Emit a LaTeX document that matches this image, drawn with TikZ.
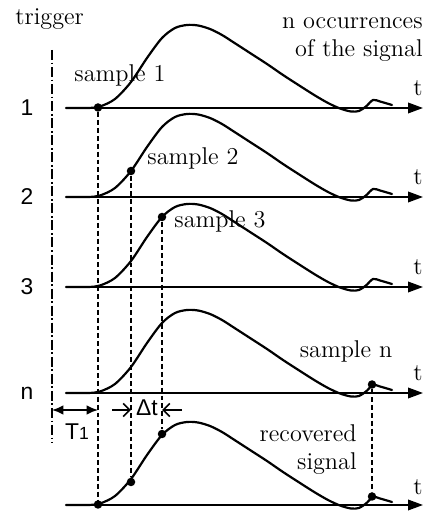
\documentclass[tikz,border=0pt]{standalone}
\usepackage{fontspec}
\setsansfont{Liberation Sans}
\usetikzlibrary{arrows.meta}
\tikzset{
  >={Triangle[length=8.5pt,width=6pt]},
  lab/.style={font=\fontsize{13.8}{16}\selectfont, inner sep=0pt},
  num/.style={font=\sffamily\fontsize{13}{15}\selectfont, inner sep=0pt},
  sig/.style={line width=1.25pt, line join=round, line cap=round},
  axis/.style={line width=1pt, ->},
  guide/.style={line width=0.75pt, dash pattern=on 2.8pt off 1.7pt},
  trig/.style={line width=1pt, dash pattern=on 5.7pt off 1.5pt on 1pt off 1.5pt},
  dot/.style={circle, fill, inner sep=0pt, minimum size=0.17cm},
  span/.style={line width=1pt, arrows={Latex[length=6.5pt,width=5.5pt]-Latex[length=6.5pt,width=5.5pt]}},
  pinch/.style={line width=0.9pt, arrows={-Straight Barb[length=3.8pt,width=7.5pt]}},
}

\begin{document}
\begin{tikzpicture}[x=0.02cm, y=0.02cm]

\useasboundingbox (0,0) rectangle (427,513);

% one occurrence of the signal, baseline at y=0
\def\pulse{plot[smooth, tension=0.5] coordinates {(66,0) (88,0) (100,1.5) (115,9) (131,26)
  (147,50) (162,70) (175,80) (187,83) (198,82.5) (210,79) (222,73) (233,66) (250,55)
  (267,44) (283,33) (300,22) (315,12.5) (328,5) (340,-0.5) (351,-3.5) (359,-3)
  (366,1.5) (373,8) (380,6.5) (392,3)}}

% ---------------- n occurrences ----------------
\foreach \b/\k in {405/1, 316/2, 226/3, 120/n} {
  \begin{scope}[shift={(0,\b)}]
    \draw[axis] (66,0) -- (423,0);
    \draw[sig] \pulse;
    \node[lab, anchor=base east] (tlab\k) at (423,12) {t};
    \node[num] (row\k) at (27,0) {\k};
  \end{scope}
}

% samples taken, one per occurrence
\node[dot] (s1) at (98,405.5) {};
\node[dot] (s2) at (131,342) {};
\node[dot] (s3) at (162,296) {};
\node[dot] (sn) at (372,128.5) {};
\node[lab, anchor=base] (lab1) at (120,431) {sample 1};
\node[lab, anchor=base] (lab2) at (193,348) {sample 2};
\node[lab, anchor=base] (lab3) at (220,285) {sample 3};
\node[lab, anchor=base] (labn) at (346,155) {sample n};

% ---------------- recovered signal ----------------
\begin{scope}[shift={(0,8)}]
  \draw[axis] (66,0) -- (423,0);
  \draw[sig] \pulse;
  \node[lab, anchor=base east] (tlabr) at (423,10) {t};
\end{scope}
\node[dot] (r1) at (98,8.5) {};
\node[dot] (r2) at (131,31) {};
\node[dot] (r3) at (162,79) {};
\node[dot] (rn) at (372,16.5) {};
\node[lab, anchor=base east, align=right] (rec) at (357,43) {recovered\\signal};

% sample instants carried down
\draw[guide] (s1) -- (r1);
\draw[guide] (s2) -- (r2);
\draw[guide] (s3) -- (r3);
\draw[guide] (sn) -- (rn);

% ---------------- trigger, T1 and delta t ----------------
\node[lab, anchor=base west] (trig) at (15,488) {trigger};
\coordinate (trigtop) at (52,463);
\coordinate (trigbot) at (52,70);
\draw[trig] (trigtop) -- (trigbot);

\coordinate (t1a) at (52,103);
\coordinate (t1b) at (98,103);
\draw[span] (t1a) -- (t1b);
\node[num, anchor=base] (t1) at (77,73) {T{\fontsize{10}{12}\selectfont 1}};

\coordinate (dta) at (112,103);
\coordinate (dtb) at (131,103);
\coordinate (dtc) at (182,103);
\coordinate (dtd) at (162,103);
\draw[pinch] (dta) -- (dtb);
\draw[pinch] (dtc) -- (dtd);
\node[num, anchor=base] (dt) at (147,97) {Δt};

\node[lab, anchor=base east, align=right] (occ) at (423,456) {n occurrences\\of the signal};

\end{tikzpicture}
\end{document}
